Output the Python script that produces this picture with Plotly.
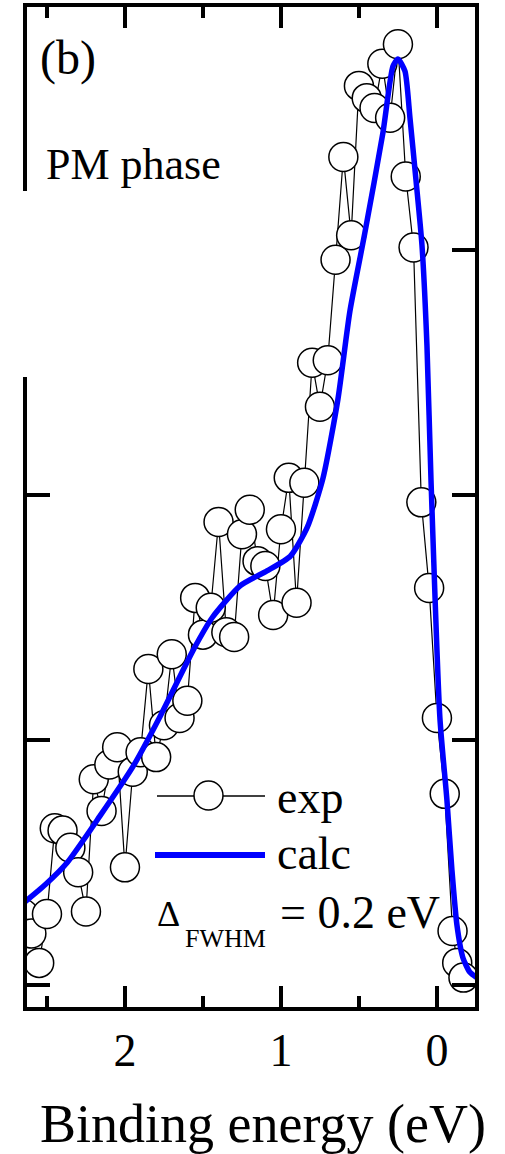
import plotly.graph_objects as go

# ---- data ----
exp_energy = [2.65, 2.60, 2.55, 2.50, 2.45, 2.40, 2.35, 2.30, 2.25, 2.20,
              2.15, 2.10, 2.05, 2.00, 1.95, 1.90, 1.85, 1.80, 1.75, 1.70,
              1.65, 1.60, 1.55, 1.50, 1.45, 1.40, 1.35, 1.30, 1.25, 1.20,
              1.15, 1.10, 1.05, 1.00, 0.95, 0.90, 0.85, 0.80, 0.75, 0.70,
              0.65, 0.60, 0.55, 0.50, 0.45, 0.40, 0.35, 0.30, 0.25, 0.20,
              0.15, 0.10, 0.05, 0.00, -0.05, -0.10, -0.13, -0.17]
exp_intensity = [0.29, 0.21, 0.09, 0.29, 0.64, 0.63, 0.56, 0.46, 0.30, 0.84,
                 0.71, 0.90, 0.97, 0.48, 0.87, 0.95, 1.29, 0.93, 1.06, 1.35,
                 1.09, 1.16, 1.58, 1.43, 1.54, 1.89, 1.44, 1.42, 1.84, 1.94,
                 1.73, 1.71, 1.51, 1.86, 2.07, 1.56, 2.05, 2.54, 2.36, 2.55,
                 2.96, 3.38, 3.06, 3.67, 3.62, 3.58, 3.76, 3.54, 3.84, 3.30,
                 3.01, 1.97, 1.62, 1.09, 0.78, 0.22, 0.09, 0.03]

calc_energy = [2.64, 2.51, 2.37, 2.16, 1.95, 1.78, 1.56, 1.44, 1.26, 1.09,
               0.94, 0.83, 0.73, 0.635, 0.558, 0.462, 0.346, 0.282, 0.25, 0.205,
               0.173, 0.135, 0.096, 0.064, 0.038, -0.019, -0.064, -0.096, -0.128,
               -0.167, -0.21, -0.256]
calc_intensity = [0.34, 0.41, 0.50, 0.69, 0.89, 1.09, 1.37, 1.50, 1.63, 1.69,
                  1.75, 1.87, 2.07, 2.39, 2.75, 3.07, 3.48, 3.75, 3.78, 3.73,
                  3.54, 3.29, 3.02, 2.61, 2.06, 1.09, 0.755, 0.47, 0.245,
                  0.11, 0.053, 0.03]

x_ticks = [2, 1, 0]
x_ticktext = ["2", "1", "0"]
x_minor = [2.5, 1.5, 0.5]
y_ticks = [0, 1, 2, 3]

# ---- layout geometry (pixels) ----
W, H = 505, 1154
L, R, T, B = 27, 30, 7, 147
PW, PH = W - L - R, H - T - B


def px(p):
    return (p - L) / PW


def py(p):
    return (H - B - p) / PH


SERIF = "Liberation Serif, Times New Roman, serif"

fig = go.Figure()

fig.add_trace(go.Scatter(
    x=exp_energy, y=exp_intensity, mode="lines+markers", name="exp",
    line=dict(color="black", width=1.2),
    marker=dict(symbol="circle", size=29, color="white",
                line=dict(color="black", width=1.5)),
    showlegend=False,
))
fig.add_trace(go.Scatter(
    x=calc_energy, y=calc_intensity, mode="lines", name="calc",
    line=dict(color="#0000ff", width=5.5, shape="spline", smoothing=0.6),
    showlegend=False,
))

axis_common = dict(
    showgrid=False, zeroline=False, showline=True, linecolor="black",
    linewidth=4, mirror="allticks", ticks="inside", tickcolor="black",
    tickwidth=4, automargin=False,
)

fig.update_xaxes(
    range=[2.628, -0.244], tickvals=x_ticks, ticktext=x_ticktext, ticklen=21,
    tickfont=dict(family=SERIF, size=46, color="black"),
    ticklabelstandoff=0,
    minor=dict(tickvals=x_minor, ticks="inside", ticklen=11, tickwidth=4,
               tickcolor="black"),
    **axis_common,
)
fig.update_yaxes(
    range=[-0.09, 3.992], tickvals=y_ticks, ticklen=23, showticklabels=False,
    **axis_common,
)

shapes = []
# gap in the left frame line
shapes.append(dict(type="rect", xref="paper", yref="paper", layer="above",
                   x0=px(8), x1=px(52), y0=py(377), y1=py(191),
                   fillcolor="white", line=dict(width=0)))
# legend glyphs
shapes.append(dict(type="line", xref="paper", yref="paper",
                   x0=px(157), x1=px(265), y0=py(796), y1=py(796),
                   line=dict(color="black", width=1.5)))
shapes.append(dict(type="circle", xref="paper", yref="paper",
                   x0=px(194), x1=px(223), y0=py(810), y1=py(781),
                   fillcolor="white", line=dict(color="black", width=1.5)))
shapes.append(dict(type="line", xref="paper", yref="paper",
                   x0=px(155), x1=px(265), y0=py(855), y1=py(855),
                   line=dict(color="#0000ff", width=6)))
fig.update_layout(shapes=shapes)

ann = []


def add_text(text, x, y, size, xanchor="left"):
    ann.append(dict(text=text, x=px(x), y=py(y), xref="paper", yref="paper",
                    xanchor=xanchor, yanchor="middle", showarrow=False,
                    font=dict(family=SERIF, size=size, color="black")))


add_text("(b)", 38, 58, 48)
add_text("PM phase", 44, 164, 44)
add_text("exp", 275, 797, 46)
add_text("calc", 275, 853, 46)
add_text("Δ", 155, 914, 36)
add_text("FWHM", 183, 939, 26)
add_text("= 0.2 eV", 278, 912, 46)
add_text("Binding energy (eV)", 263, 1124, 54, xanchor="center")
fig.update_layout(annotations=ann)

fig.update_layout(
    width=W, height=H, margin=dict(l=L, r=R, t=T, b=B, pad=0, autoexpand=False),
    paper_bgcolor="white", plot_bgcolor="white",
)

fig.write_html("out.html",
               config={"displayModeBar": False},
               post_script="document.body.style.margin='0px';"
                           "document.body.style.overflow='hidden';")
